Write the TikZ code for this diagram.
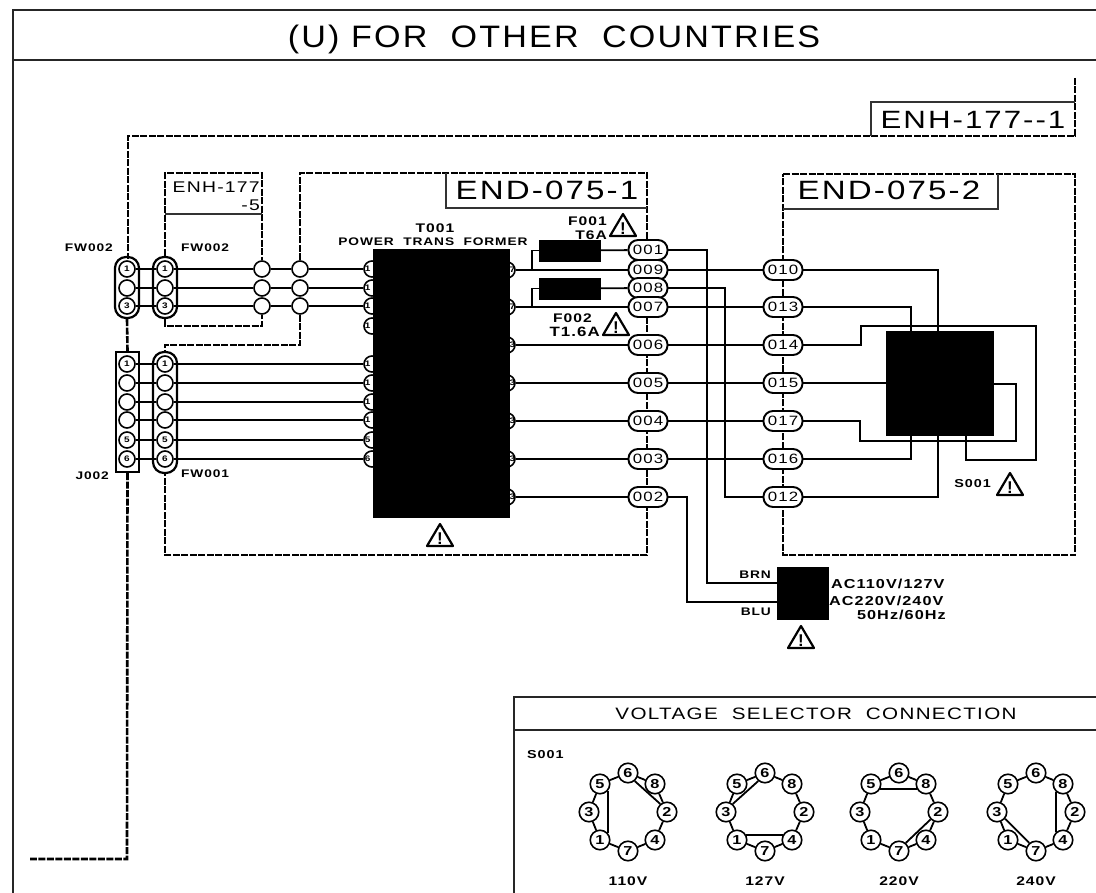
\documentclass[tikz,border=0pt]{standalone}
\usepackage{fontspec}
\setmainfont{Liberation Sans}
\newfontfamily\wf[FakeStretch=1.25,LetterSpace=8]{Liberation Sans}
\newfontfamily\tf[FakeStretch=1.1,LetterSpace=7]{Liberation Sans}
\usetikzlibrary{backgrounds}
\newcommand\lsz[1]{\wf\bfseries\fontsize{#1}{#1}\selectfont}
\tikzset{
  frameline/.style={line width=1.5pt,draw=black!85},
  thin box/.style={line width=1.5pt,draw=black!80},
  dashline/.style={line width=2.6pt,dash pattern=on 7pt off 1.5pt},
  wire/.style={line width=1.8pt},
  pinc/.style={circle,draw,fill=white,inner sep=0pt,minimum size=16pt,line width=1.6pt,font=\wf\bfseries\fontsize{8}{8}\selectfont},
  groupc/.style={draw,rectangle,fill=none,rounded corners=11pt,line width=2.2pt,inner sep=0pt,minimum width=24pt},
  capsule/.style={draw,rectangle,fill=white,rounded corners=9.5pt,line width=1.9pt,minimum width=39pt,minimum height=20pt,inner sep=0pt,font=\wf\fontsize{13.5}{13.5}\selectfont},
  blackbox/.style={draw=black,fill=black,rectangle,inner sep=0pt},
  lab/.style={inner sep=0pt,font=\lsz{11}},
  big/.style={inner sep=0pt,font=\wf\fontsize{26.5}{26.5}\selectfont},
  ringpin/.style={circle,draw,fill=white,inner sep=0pt,minimum size=19.5pt,line width=1.6pt,font=\wf\bfseries\fontsize{13}{13}\selectfont},
  warn/.pic={\draw[line width=2.2pt,line join=round] (-13,10)--(0,-12)--(13,10)--cycle;
    \node[inner sep=0pt,font=\bfseries\fontsize{17}{17}\selectfont] at (0,2.5) {!};}
}
\newcommand\ringset[3]{%
  \begin{scope}[shift={(#2,812)}]
    \foreach \n/\dx/\dy in {6/0/-39,5/-28/-28,8/27/-28,3/-39/0,2/39/0,1/-28/28,4/27/28,7/0/39}
      \node[ringpin] (#1-\n) at (\dx,\dy) {\n};
  \end{scope}
  \begin{scope}[on background layer]
    \foreach \a/\b in {6/5,5/3,3/1,1/7,7/4,4/2,2/8,8/6}
      \draw[wire] (#1-\a) -- (#1-\b);
    \foreach \a/\b in {#3}
      \draw[wire] (#1-\a) -- (#1-\b);
  \end{scope}}
\begin{document}
\begin{tikzpicture}[x=1pt,y=-1pt]
\useasboundingbox (0,0) rectangle (1096,893);
% title frame
\coordinate (ftl) at (13,10); \coordinate (ftr) at (1096,10);
\coordinate (fbl) at (13,893); \coordinate (fml) at (13,60); \coordinate (fmr) at (1096,60);
\draw[frameline] (ftr) -- (ftl) -- (fbl);
\draw[frameline] (fml) -- (fmr);
\node[inner sep=0pt,font=\tf\fontsize{31}{31}\selectfont] (title) at (554,39) {(U) FOR\ \ OTHER\ \ COUNTRIES};
% ENH-177--1
\coordinate (e1a) at (1075,78); \coordinate (e1b) at (1075,136); \coordinate (e1c) at (128,136); \coordinate (e1d) at (128,259);
\coordinate (e1e) at (871,136); \coordinate (e1f) at (871,102); \coordinate (e1g) at (1075,102);
\coordinate (e1h) at (127,859); \coordinate (e1i) at (30,859);
\draw[dashline] (e1a) -- (e1b) -- (e1c) -- (e1d);
\draw[thin box] (e1e) -- (e1f) -- (e1g);
\node[big,font=\wf\fontsize{25}{25}\selectfont] (enh1) at (973,120) {ENH-177--1};
% FW002 groups
\foreach \i/\y/\t in {1/269/1,2/288/,3/306/3} {
  \node[pinc] (a\i) at (127,\y) {\t};
  \node[pinc] (b\i) at (165,\y) {\t};
  \node[pinc] (c\i) at (262,\y) {};
  \node[pinc] (d\i) at (300,\y) {};
}
\node[groupc,minimum height=61pt] (ga) at (127,287.5) {};
\node[groupc,minimum height=61pt] (gb) at (165,287.5) {};
% J002 / FW001
\foreach \i/\y/\t in {1/364/1,2/383/,3/402/,4/420/,5/440/5,6/459/6} {
  \node[pinc] (j\i) at (127,\y) {\t};
  \node[pinc] (k\i) at (165,\y) {\t};
}
\node[draw,line width=2.2pt,rectangle,inner sep=0pt,minimum width=23pt,minimum height=120pt] (gj) at (127.5,412) {};
\node[groupc,minimum height=121pt] (gk) at (165,412.5) {};
% transformer pins
\foreach \i/\y/\t in {1/269/1,2/288/1,3/306/1,4/326/1,5/364/1,6/383/1,7/402/1,8/420/1,9/440/5,10/459/6}
  \node[pinc] (tl\i) at (372,\y) {\makebox[0pt][r]{\t\kern1.5pt}};
\foreach \i/\y/\t in {1/270/7,2/307/7,3/345/3,4/383/3,5/421/3,6/459/3,7/497/3}
  \node[pinc] (tr\i) at (507,\y) {\makebox[0pt][l]{\kern2.5pt\t}};
\node[blackbox,minimum width=136pt,minimum height=268pt] (t001) at (441,383) {};
\node[lab,font=\lsz{12.5}] (tname) at (435,228) {T001};
\node[lab] (tdesc) at (433,242) {POWER\ \ TRANS\ \ FORMER};
\pic at (440,536) {warn};
% ENH-177 -5
\coordinate (e5a) at (165,173); \coordinate (e5b) at (262,173); \coordinate (e5l) at (165,214); \coordinate (e5r) at (262,214);
\coordinate (e5c) at (165,326); \coordinate (e5d) at (262,326);
\draw[dashline] (gb.north) -- (e5a) -- (e5b) -- (c1.north);
\draw[dashline] (gb.south) -- (e5c) -- (e5d) -- (c3.south);
\draw[thin box] (e5l) -- (e5r);
\node[lab,anchor=east,font=\wf\fontsize{15.5}{15.5}\selectfont] (enh5a) at (260,187) {ENH-177};
\node[lab,anchor=east,font=\wf\fontsize{15.5}{15.5}\selectfont] (enh5b) at (260,205) {-5};
% END-075-1 box
\coordinate (n1a) at (300,173); \coordinate (n1b) at (647,173); \coordinate (n1c) at (647,555);
\coordinate (n1d) at (165,555); \coordinate (n1e) at (300,345); \coordinate (n1f) at (165,345);
\coordinate (n1g) at (446,173); \coordinate (n1h) at (446,208); \coordinate (n1i) at (647,208);
\draw[dashline] (d1.north) -- (n1a) -- (n1b) -- (n1c) -- (n1d) -- (gk.south);
\draw[dashline] (d3.south) -- (n1e) -- (n1f) -- (gk.north);
\draw[thin box] (n1g) -- (n1h) -- (n1i);
\node[big] (end1) at (547,190) {END-075-1};
% END-075-2
\coordinate (n2a) at (783,174); \coordinate (n2b) at (1075,174); \coordinate (n2c) at (1075,555); \coordinate (n2d) at (783,555);
\coordinate (n2e) at (783,209); \coordinate (n2f) at (998,209); \coordinate (n2g) at (998,174);
\draw[dashline] (n2a) -- (n2b) -- (n2c) -- (n2d) -- cycle;
\draw[thin box] (n2e) -- (n2f) -- (n2g);
\node[big] (end2) at (889,190) {END-075-2};
% left column dashes
\draw[dashline] (ga.south) -- (gj.north);
\draw[dashline] (gj.south) -- (e1h) -- (e1i);
% FW labels
\node[lab,anchor=east] (lf1) at (113,248) {FW002};
\node[lab,anchor=west] (lf2) at (181,248) {FW002};
\node[lab,anchor=east] (lj) at (109,476) {J002};
\node[lab,anchor=west] (lf3) at (181,474) {FW001};
% capsules column 1
\foreach \n/\y in {001/250,009/270,008/288,007/307,006/345,005/383,004/421,003/459,002/497}
  \node[capsule] (c\n) at (648,\y) {\n};
% capsules column 2
\foreach \n/\y in {010/270,013/307,014/345,015/383,017/421,016/459,012/497}
  \node[capsule] (c\n) at (783,\y) {\n};
% fuses
\node[blackbox,minimum width=61pt,minimum height=21pt] (f1) at (569.5,250.5) {};
\node[blackbox,minimum width=61pt,minimum height=21pt] (f2) at (569.5,288.5) {};
\coordinate (jf1) at (532,270); \coordinate (jf2) at (532,307);
\node[lab,anchor=east,font=\lsz{12.5}] (f1a) at (607,221) {F001};
\node[lab,anchor=east,font=\lsz{12.5}] (f1b) at (607,235) {T6A};
\pic at (623,226) {warn};
\node[lab,anchor=east,font=\lsz{12.5}] (f2a) at (592,318) {F002};
\node[lab,anchor=east,font=\lsz{13.5}] (f2b) at (600,332) {T1.6A};
\pic at (616,325) {warn};
% S001
\node[blackbox,minimum width=107pt,minimum height=104pt] (s001) at (939.5,383) {};
\node[lab,font=\lsz{11.5},anchor=east] (s1l) at (991,484) {S001};
\pic at (1010,485) {warn};
% power switch
\node[blackbox,minimum width=51pt,minimum height=52pt] (sw) at (803,593) {};
\node[lab,anchor=east] (brn) at (771,575) {BRN};
\node[lab,anchor=east] (blu) at (771,612) {BLU};
\node[lab,font=\lsz{13},anchor=west] (ac1) at (831,584) {AC110V/127V};
\node[lab,font=\lsz{13},anchor=west] (ac2) at (829,601) {AC220V/240V};
\node[lab,font=\lsz{13},anchor=east] (ac3) at (946,615) {50Hz/60Hz};
\pic at (801,638) {warn};
% selector box
\coordinate (v1) at (1096,697); \coordinate (v2) at (514,697); \coordinate (v3) at (514,893); \coordinate (v4) at (514,730); \coordinate (v5) at (1096,730);
\draw[frameline] (v1) -- (v2) -- (v3);
\draw[frameline] (v4) -- (v5);
\node[inner sep=0pt,font=\wf\fontsize{16.5}{16.5}\selectfont] (vt) at (816,714) {VOLTAGE\ \ SELECTOR\ \ CONNECTION};
\node[lab,font=\lsz{11.5},anchor=west] (vs) at (527,755) {S001};
\ringset{ra}{628}{5.-40/1.40,6.-50/2.130}
\ringset{rb}{765}{3.50/6.230,1.30/4.150}
\ringset{rc}{899}{5.-30/8.210,7.50/2.225}
\ringset{rd}{1036}{3.-40/7.130,8.-130/4.130}
\node[lab,font=\lsz{12.5}] (va) at (628,881) {110V};
\node[lab,font=\lsz{12.5}] (vb) at (765,881) {127V};
\node[lab,font=\lsz{12.5}] (vc) at (899,881) {220V};
\node[lab,font=\lsz{12.5}] (vd) at (1036,881) {240V};
% wires behind nodes
\begin{scope}[on background layer]
\foreach \i in {1,2,3} {
  \draw[wire] (a\i) -- (b\i);
  \draw[wire] (b\i) -- (c\i);
  \draw[wire] (c\i) -- (d\i);
  \draw[wire] (d\i) -- (tl\i);
}
\foreach \i/\t in {1/5,2/6,3/7,4/8,5/9,6/10} {
  \draw[wire] (j\i) -- (k\i);
  \draw[wire] (k\i) -- (tl\t);
}
\draw[wire] (tr1) -- (c009);
\draw[wire] (tr2) -- (c007);
\draw[wire] (tr3) -- (c006);
\draw[wire] (tr4) -- (c005);
\draw[wire] (tr5) -- (c004);
\draw[wire] (tr6) -- (c003);
\draw[wire] (tr7) -- (c002);
\draw[wire] (jf1) |- (f1.west);
\draw[wire] (jf2) |- (f2.west);
\draw[wire] (f1) -- (c001);
\draw[wire] (f2) -- (c008);
\draw[wire] (c009) -- (c010);
\draw[wire] (c007) -- (c013);
\draw[wire] (c006) -- (c014);
\draw[wire] (c005) -- (c015);
\draw[wire] (c004) -- (c017);
\draw[wire] (c003) -- (c016);
\coordinate (w1) at (707,583); \coordinate (w2) at (687,602); \coordinate (w3) at (725,497);
\draw[wire] (c001.east) -| (w1) -- (w1 -| sw.west);
\draw[wire] (c002.east) -| (w2) -- (w2 -| sw.west);
\draw[wire] (c008.east) -| (w3) -- (c012.west);
\coordinate (s1) at (938,270); \coordinate (s2) at (911,307);
\coordinate (s3) at (861,345); \coordinate (s4) at (861,326); \coordinate (s5) at (1036,326); \coordinate (s6) at (1036,460); \coordinate (s7) at (966,460);
\coordinate (s8) at (860,421); \coordinate (s9) at (860,441); \coordinate (s10) at (1016,441); \coordinate (s11) at (1016,384);
\coordinate (s12) at (911,459); \coordinate (s13) at (938,497);
\draw[wire] (c010.east) -- (s1) -- (s1 |- s001.north);
\draw[wire] (c013.east) -- (s2) -- (s2 |- s001.north);
\draw[wire] (c014.east) -- (s3) -- (s4) -- (s5) -- (s6) -- (s7) -- (s7 |- s001.south);
\draw[wire] (c015.east) -- (c015.east -| s001.west);
\draw[wire] (c017.east) -- (s8) -- (s9) -- (s10) -- (s11) -- (s11 -| s001.east);
\draw[wire] (c016.east) -- (s12) -- (s12 |- s001.south);
\draw[wire] (c012.east) -- (s13) -- (s13 |- s001.south);
\end{scope}
\end{tikzpicture}
\end{document}
